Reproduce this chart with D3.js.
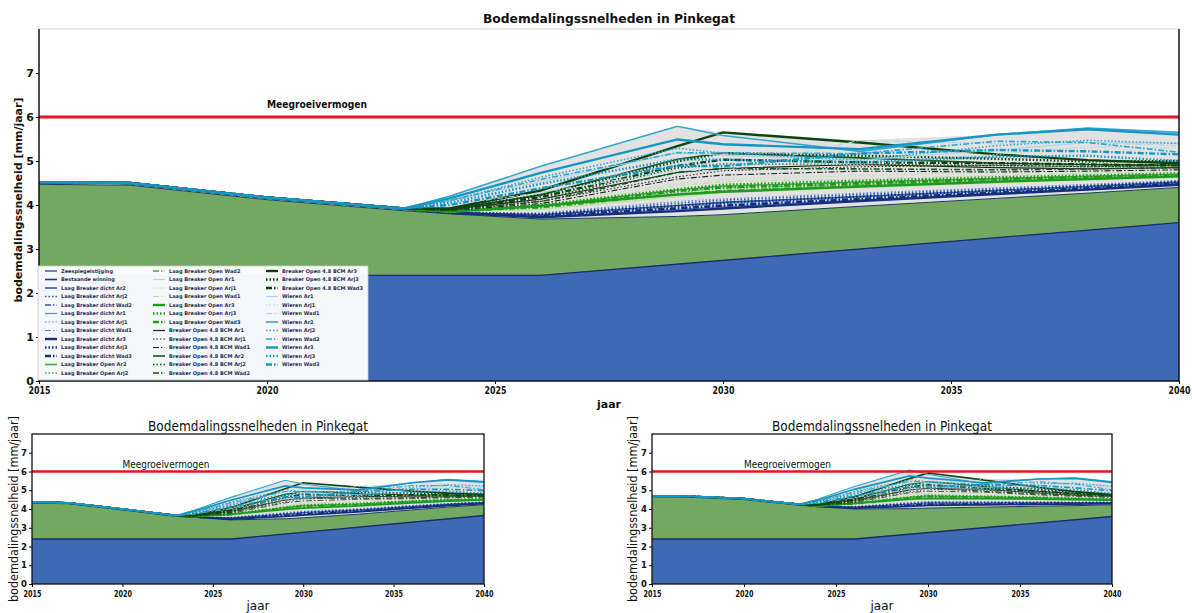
<!DOCTYPE html>
<html lang="nl">
<head>
<meta charset="UTF-8">
<title>Bodemdalingssnelheden in Pinkegat</title>
<script src="https://cdn.jsdelivr.net/npm/d3@7/dist/d3.min.js"></script>
<style>
  * { margin: 0; padding: 0; }
  body { background: #fff; width: 1192px; height: 613px; overflow: hidden; }
  text { font-family: "DejaVu Sans", sans-serif; }
</style>
</head>
<body>
<svg id="chart" width="1192" height="613"></svg>
<script>
  const jaren = [2015, 2017, 2020, 2023, 2024, 2026, 2029, 2030, 2033, 2036, 2038, 2040];

  // zeespiegelstijging (blauw vlak)
  const zeeJaren = [2015, 2026, 2040];
  const zeeBoven = [2.4, 2.4, 3.6];
  const zeeLinks = [2.4, 2.4, 3.65];
  const zeeRechts = [2.4, 2.4, 3.6];

  // bestaande winning, totaal (bovenkant groen vlak)
  const bestaandeBoven = [4.47, 4.45, 4.12, 3.87, 3.8, 3.68, 3.74, 3.78, 3.97, 4.15, 4.27, 4.4];
  const bestaandeLinks = [4.32, 4.28, 3.95, 3.6, 3.55, 3.42, 3.48, 3.53, 3.72, 3.95, 4.1, 4.23];
  const bestaandeRechts = [4.65, 4.63, 4.5, 4.2, 4.12, 4.0, 4.02, 4.05, 4.1, 4.15, 4.18, 4.22];

  const meegroeivermogen = 6;

  // extra bodemdaling boven bestaande winning (2015-2023 gelijk voor alle scenario's)
  const aanloop = [0.05, 0.05, 0.05, 0.05];

  const variantenLaag = ["Ar2", "Arj2", "Wad2", "Ar1", "Arj1", "Wad1", "Ar3", "Arj3", "Wad3"];
  const variantenOpen = ["Ar1", "Arj1", "Wad1", "Ar2", "Arj2", "Wad2", "Ar3", "Arj3", "Wad3"];

  // waarden voor 2024, 2026, 2029, 2030, 2033, 2036, 2038, 2040
  const laagDicht = [
    [0.02, 0.10, 0.25, 0.28, 0.22, 0.18, 0.15, 0.12],
    [0.02, 0.12, 0.30, 0.33, 0.27, 0.22, 0.18, 0.14],
    [0.02, 0.08, 0.20, 0.22, 0.18, 0.15, 0.12, 0.10],
    [0.02, 0.06, 0.16, 0.18, 0.15, 0.12, 0.10, 0.08],
    [0.02, 0.14, 0.34, 0.36, 0.30, 0.24, 0.20, 0.16],
    [0.02, 0.09, 0.22, 0.25, 0.20, 0.17, 0.14, 0.11],
    [0.03, 0.04, 0.12, 0.14, 0.12, 0.10, 0.08, 0.06],
    [0.03, 0.10, 0.24, 0.27, 0.22, 0.18, 0.15, 0.12],
    [0.02, 0.07, 0.18, 0.20, 0.16, 0.13, 0.11, 0.09]
  ];
  const laagOpen = [
    [0.05, 0.30, 0.60, 0.65, 0.55, 0.45, 0.38, 0.30],
    [0.05, 0.28, 0.55, 0.60, 0.50, 0.42, 0.35, 0.28],
    [0.05, 0.25, 0.50, 0.55, 0.48, 0.40, 0.32, 0.25],
    [0.04, 0.22, 0.45, 0.50, 0.42, 0.35, 0.30, 0.22],
    [0.05, 0.35, 0.75, 0.80, 0.70, 0.60, 0.50, 0.40],
    [0.04, 0.30, 0.70, 0.75, 0.62, 0.52, 0.45, 0.35],
    [0.05, 0.30, 0.50, 0.52, 0.45, 0.38, 0.32, 0.25],
    [0.05, 0.32, 0.62, 0.68, 0.58, 0.48, 0.40, 0.32],
    [0.05, 0.28, 0.58, 0.62, 0.52, 0.44, 0.36, 0.28]
  ];
  const breakerOpen = [
    [0.10, 0.45, 1.00, 1.05, 0.95, 0.70, 0.55, 0.45],
    [0.08, 0.40, 0.90, 1.00, 0.90, 0.75, 0.60, 0.50],
    [0.08, 0.35, 0.85, 0.90, 0.80, 0.60, 0.50, 0.40],
    [0.10, 0.55, 1.30, 1.40, 1.10, 0.80, 0.65, 0.50],
    [0.08, 0.45, 1.10, 1.15, 0.95, 0.75, 0.60, 0.50],
    [0.08, 0.40, 1.00, 1.05, 0.85, 0.65, 0.55, 0.45],
    [0.12, 0.65, 1.60, 1.87, 1.45, 1.00, 0.75, 0.55],
    [0.10, 0.55, 1.25, 1.40, 1.15, 0.90, 0.72, 0.60],
    [0.10, 0.50, 1.15, 1.25, 1.00, 0.80, 0.65, 0.50]
  ];
  const wieren = [
    [0.30, 0.85, 1.45, 1.35, 1.05, 1.10, 1.15, 1.00],
    [0.25, 0.70, 1.20, 1.15, 0.95, 1.00, 1.05, 0.90],
    [0.20, 0.60, 1.05, 1.00, 1.50, 1.25, 1.15, 0.95],
    [0.40, 1.20, 2.05, 1.80, 1.25, 1.45, 1.48, 1.25],
    [0.30, 0.95, 1.55, 1.40, 1.05, 1.20, 1.20, 1.00],
    [0.30, 0.90, 1.45, 1.40, 1.20, 1.30, 1.15, 0.80],
    [0.35, 1.05, 1.75, 1.60, 1.30, 1.45, 1.45, 1.20],
    [0.25, 0.80, 1.30, 1.25, 1.00, 0.95, 0.85, 0.60],
    [0.20, 0.70, 1.15, 1.10, 1.20, 1.10, 0.95, 0.75]
  ];

  const groepen = [
    { naam: "Laag Breaker dicht", varianten: variantenLaag, reeksen: laagDicht },
    { naam: "Laag Breaker Open", varianten: variantenLaag, reeksen: laagOpen },
    { naam: "Breaker Open 4.8 BCM", varianten: variantenOpen, reeksen: breakerOpen },
    { naam: "Wieren", varianten: variantenOpen, reeksen: wieren }
  ];

  // stijlen
  const kleuren = {
    "Laag Breaker dicht": ["#5b86d6", "#2b55ad", "#152f78"],
    "Laag Breaker Open": ["#b9e0a5", "#49ad3f", "#1f9a1f"],
    "Breaker Open 4.8 BCM": ["#222222", "#16551c", "#0c4410"],
    "Wieren": ["#a9d4e8", "#33a6cc", "#1596c4"]
  };
  const kleurZee = "#3f68b5", kleurGroen = "#72a862", kleurGrijs = "#e2e2e2";

  function stijl(groep, variant) {
    const nr = +variant.slice(-1);
    const soort = variant.replace(/\d/, "");
    return {
      kleur: kleuren[groep][nr - 1],
      breedte: [1.1, 1.6, 2.4][nr - 1],
      dash: soort === "Ar" ? null : soort === "Arj" ? "1.5,2" : "6,2,1.5,2"
    };
  }

  const scenarios = [];
  groepen.forEach(function (gr) {
    gr.varianten.forEach(function (v, i) {
      scenarios.push({ naam: gr.naam + " " + v, extra: aanloop.concat(gr.reeksen[i]), stijl: stijl(gr.naam, v) });
    });
  });

  const svg = d3.select("#chart");

  const panelen = [
    { id: 0, x0: 39, x1: 1179, y0: 29, y1: 381, zee: zeeBoven, bestaande: bestaandeBoven, groot: true,
      titelY: 23, xLabelY: 408, yLabelX: 22, titelW: 252, yLabelW: 205, tickW: 22, lijn: 1 },
    { id: 1, x0: 32, x1: 484, y0: 434, y1: 584, zee: zeeLinks, bestaande: bestaandeLinks, groot: false,
      titelY: 431, xLabelY: 610, yLabelX: 18, titelW: 220, yLabelW: 186, tickW: 18, lijn: 0.7 },
    { id: 2, x0: 652, x1: 1112, y0: 434, y1: 584, zee: zeeRechts, bestaande: bestaandeRechts, groot: false,
      titelY: 431, xLabelY: 610, yLabelX: 637, titelW: 220, yLabelW: 186, tickW: 18, lijn: 0.7 }
  ];

  function tekenPaneel(p) {
    const x = d3.scaleLinear().domain([2015, 2040]).range([p.x0, p.x1]);
    const y = d3.scaleLinear().domain([0, 8]).range([p.y1, p.y0]);
    const g = svg.append("g");

    g.append("clipPath").attr("id", "clip" + p.id).append("rect")
      .attr("x", p.x0).attr("y", p.y0).attr("width", p.x1 - p.x0).attr("height", p.y1 - p.y0);
    const plot = g.append("g").attr("clip-path", "url(#clip" + p.id + ")");

    const vlak = d3.area().x(d => x(d[0])).y0(y(0)).y1(d => y(d[1]));
    const lijn = d3.line().x(d => x(d[0])).y(d => y(d[1]));

    const basis = jaren.map((j, k) => [j, p.bestaande[k]]);
    plot.append("path").datum(basis).attr("d", vlak).attr("fill", kleurGroen);

    const lijnen = scenarios.map(s => ({
      s: s,
      punten: jaren.map((j, k) => [j, p.bestaande[k] + s.extra[k]])
    }));

    const omhullende = jaren.map((j, k) => [j, p.bestaande[k], d3.max(lijnen, l => l.punten[k][1])]);
    plot.append("path").datum(omhullende)
      .attr("d", d3.area().x(d => x(d[0])).y0(d => y(d[1])).y1(d => y(d[2])))
      .attr("fill", kleurGrijs);

    const zee = zeeJaren.map((j, k) => [j, p.zee[k]]);
    plot.append("path").datum(zee).attr("d", vlak).attr("fill", kleurZee);
    plot.append("path").datum(zee).attr("d", lijn).attr("fill", "none")
      .attr("stroke", "#1b2d6b").attr("stroke-width", 1.4);
    plot.append("path").datum(basis).attr("d", lijn).attr("fill", "none")
      .attr("stroke", "#1c3a5e").attr("stroke-width", 1);

    plot.selectAll(".scen").data(lijnen).enter().append("path")
      .attr("class", "scen")
      .attr("d", d => lijn(d.punten))
      .attr("fill", "none")
      .attr("stroke", d => d.s.stijl.kleur)
      .attr("stroke-width", d => d.s.stijl.breedte * p.lijn)
      .attr("stroke-dasharray", d => d.s.stijl.dash);

    // meegroeivermogen
    plot.append("line").attr("x1", x(2015)).attr("x2", x(2040))
      .attr("y1", y(meegroeivermogen)).attr("y2", y(meegroeivermogen))
      .attr("stroke", "#e3161b").attr("stroke-width", p.groot ? 3 : 2.5);
    g.append("text").attr("x", x(2020)).attr("y", y(meegroeivermogen + 0.2))
      .attr("font-size", p.groot ? 11 : 10).attr("font-weight", p.groot ? "bold" : "normal")
      .attr("textLength", p.groot ? 100 : 87).attr("lengthAdjust", "spacingAndGlyphs")
      .attr("fill", "#111").text("Meegroeivermogen");

    // assen
    const ax = g.append("g").attr("transform", "translate(0," + p.y1 + ")")
      .call(d3.axisBottom(x).tickValues(d3.range(2015, 2041, 5)).tickFormat(d3.format("d")).tickSize(3));
    ax.select(".domain").remove();
    ax.selectAll("text").attr("font-size", p.groot ? 10 : 9.5).attr("font-weight", "bold")
      .attr("textLength", p.tickW).attr("lengthAdjust", "spacingAndGlyphs").attr("fill", "#111");
    if (p.groot) {
      // laatste label tegen de rand houden
      ax.selectAll("text").filter(d => d === 2040)
        .attr("text-anchor", "end").attr("x", p.tickW / 2);
    }

    const ay = g.append("g").attr("transform", "translate(" + p.x0 + ",0)")
      .call(d3.axisLeft(y).tickValues(d3.range(0, 8)).tickSize(3).tickPadding(2));
    ay.select(".domain").remove();
    ay.selectAll("text").attr("font-size", p.groot ? 11 : 8.5).attr("font-weight", "bold").attr("fill", "#111");

    // kader
    if (p.groot) {
      g.append("line").attr("x1", p.x0).attr("x2", p.x1).attr("y1", p.y0).attr("y2", p.y0)
        .attr("stroke", "#d4d4d4").attr("stroke-width", 1);
      [[p.x0, p.y0, p.x0, p.y1], [p.x0, p.y1, p.x1, p.y1], [p.x1, p.y0, p.x1, p.y1]].forEach(function (c) {
        g.append("line").attr("x1", c[0]).attr("y1", c[1]).attr("x2", c[2]).attr("y2", c[3])
          .attr("stroke", "#111").attr("stroke-width", 1.5);
      });
    } else {
      g.append("rect").attr("x", p.x0).attr("y", p.y0).attr("width", p.x1 - p.x0).attr("height", p.y1 - p.y0)
        .attr("fill", "none").attr("stroke", "#111").attr("stroke-width", 1.3);
    }

    // teksten
    const midX = (p.x0 + p.x1) / 2;
    g.append("text").attr("x", midX).attr("y", p.titelY).attr("text-anchor", "middle")
      .attr("font-size", p.groot ? 13 : 14).attr("font-weight", p.groot ? "bold" : "normal")
      .attr("textLength", p.titelW).attr("lengthAdjust", "spacingAndGlyphs")
      .attr("fill", "#111").text("Bodemdalingssnelheden in Pinkegat");
    g.append("text").attr("x", midX).attr("y", p.xLabelY).attr("text-anchor", "middle")
      .attr("font-size", p.groot ? 11 : 12).attr("font-weight", p.groot ? "bold" : "normal")
      .attr("fill", "#111").text("jaar");
    g.append("text")
      .attr("transform", "translate(" + p.yLabelX + "," + ((p.y0 + p.y1) / 2 + (p.groot ? -5 : 0)) + ") rotate(-90)")
      .attr("text-anchor", "middle")
      .attr("font-size", p.groot ? 11 : 12).attr("font-weight", p.groot ? "bold" : "normal")
      .attr("textLength", p.yLabelW).attr("lengthAdjust", "spacingAndGlyphs")
      .attr("fill", "#111").text("bodemdalingssnelheid [mm/jaar]");

    if (p.groot) tekenLegenda(p);
  }

  function tekenLegenda(p) {
    const items = [
      { naam: "Zeespiegelstijging", stijl: { kleur: kleurZee, breedte: 1.6, dash: null } },
      { naam: "Bestaande winning", stijl: { kleur: "#1c3a7e", breedte: 1.6, dash: null } }
    ].concat(scenarios);
    const lg = svg.append("g").attr("transform", "translate(" + (p.x0 - 1) + "," + (p.y1 - 115) + ")");
    lg.append("rect").attr("width", 330).attr("height", 114)
      .attr("fill", "#fff").attr("fill-opacity", 0.95).attr("stroke", "#c8c8c8").attr("stroke-width", 0.8);
    const kolX = [0, 108, 221];
    const perKol = 13;
    items.forEach(function (it, i) {
      const kol = Math.floor(i / perKol), rij = i % perKol;
      const cx = kolX[kol], cy = 5 + rij * 8.5;
      lg.append("line").attr("x1", cx + 7).attr("x2", cx + 19).attr("y1", cy).attr("y2", cy)
        .attr("stroke", it.stijl.kleur).attr("stroke-width", Math.max(it.stijl.breedte, 1.2))
        .attr("stroke-dasharray", it.stijl.dash);
      lg.append("text").attr("x", cx + 23).attr("y", cy + 1.8)
        .attr("font-size", 5).attr("font-weight", "bold").attr("fill", "#1f2f55").text(it.naam);
    });
  }

  panelen.forEach(tekenPaneel);
</script>
</body>
</html>
